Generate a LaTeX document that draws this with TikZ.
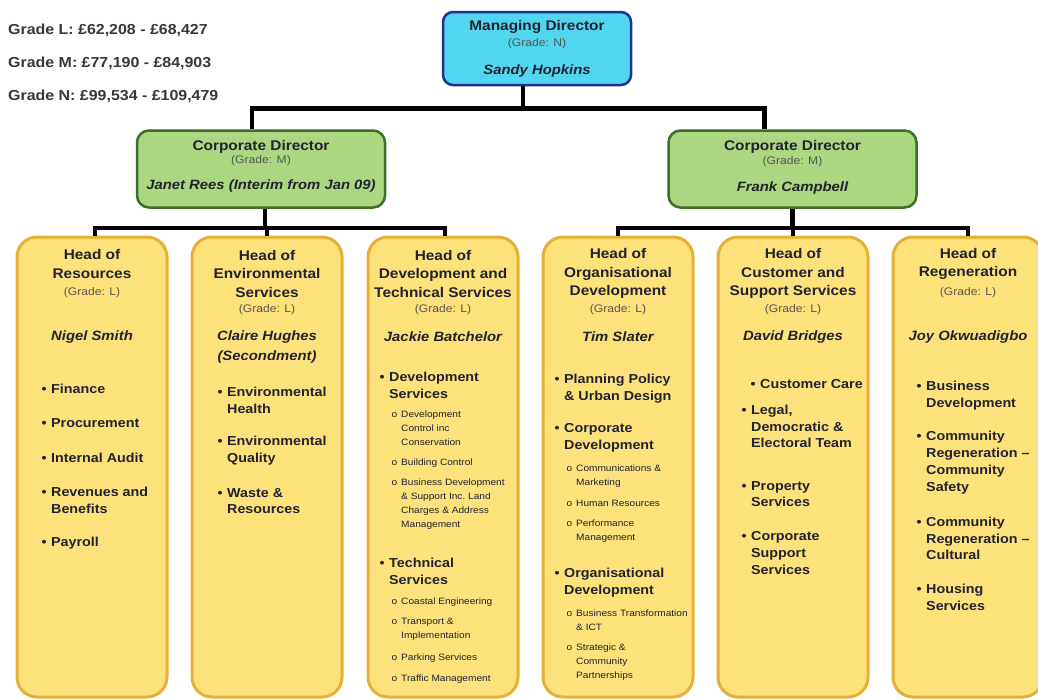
\documentclass[tikz,border=0pt]{standalone}
\usepackage{fontspec}
\setmainfont[FakeStretch=1.1]{Liberation Sans}
\usepackage{xcolor}

\definecolor{mdfill}{RGB}{82,214,240}
\definecolor{mdline}{RGB}{30,52,140}
\definecolor{cdfill}{RGB}{172,214,128}
\definecolor{cdline}{RGB}{58,112,40}
\definecolor{hdfill}{RGB}{253,226,124}
\definecolor{hdline}{RGB}{230,176,56}
\definecolor{txt}{RGB}{34,34,48}
\definecolor{grdtxt}{RGB}{85,85,85}

\newcommand{\bul}{\llap{\textbullet\hspace{4.5pt}}}
\newcommand{\subbul}{\llap{o\hspace{4pt}}}

\tikzset{
	mdbox/.style={draw=mdline, fill=mdfill, line width=2.5pt, rounded corners=10pt,
		minimum width=188pt, minimum height=73pt, inner sep=0pt},
	cdbox/.style={draw=cdline, fill=cdfill, line width=2.5pt, rounded corners=12pt,
		minimum width=248pt, minimum height=77pt, inner sep=0pt},
	hdbox/.style={draw=hdline, fill=hdfill, line width=3pt, rounded corners=20pt,
		minimum width=150pt, minimum height=460pt, inner sep=0pt},
	conn/.style={line width=4.5pt, black},
	ttl/.style={font=\fontsize{14}{18.5}\selectfont\bfseries, text=txt, align=center, inner sep=0pt},
	grd/.style={font=\fontsize{11}{12}\selectfont, text=grdtxt, inner sep=0pt},
	nm/.style={font=\fontsize{13.5}{20}\selectfont\bfseries\itshape, text=txt, align=center, inner sep=0pt},
	itm/.style={font=\fontsize{13}{16.8}\selectfont\bfseries, text=txt, align=left, anchor=west, inner sep=0pt},
	subitm/.style={font=\fontsize{9.2}{14}\selectfont, text=txt, align=left, anchor=west, inner sep=0pt},
	band/.style={font=\fontsize{14.5}{16}\selectfont\bfseries, text=black!78, anchor=west, inner sep=0pt}
}

\begin{document}
\begin{tikzpicture}[x=1pt, y=-1pt]
		\fill[white] (0,0) rectangle (1038,699);
		\useasboundingbox (0,0) rectangle (1038,699);
		
		% salary bands
		\node[band] (bandl) at (8,30) {Grade L: £62,208 - £68,427};
		\node[band] (bandm) at (8,63) {Grade M: £77,190 - £84,903};
		\node[band] (bandn) at (8,96) {Grade N: £99,534 - £109,479};
		
		% boxes
		\node[mdbox] (md) at (537,48.5) {};
		\node[cdbox] (cdl) at (261,169) {};
		\node[cdbox] (cdr) at (792.5,169) {};
		\foreach \n/\x in {hres/92,henv/267,hdev/443,horg/618,hcus/793,hreg/968}
			\node[hdbox] (\n) at (\x,467) {};
		
		% connectors
		\draw[conn] ([xshift=-14pt]md.south) -- ++(0,-22pt) coordinate (topbus)
			-| ([xshift=-9pt]cdl.north);
		\draw[conn] (topbus) -| ([xshift=-28pt]cdr.north);
		
		\draw[conn] ([xshift=4pt]cdl.south) -- ++(0,-19pt) coordinate (lbus);
		\draw[conn] ([xshift=3pt]hres.north) |- (lbus) -| ([xshift=2pt]hdev.north);
		\draw[conn] (henv.north) -- (henv.north |- lbus);
		
		\draw[conn] (cdr.south) -- ++(0,-19pt) coordinate (rbus);
		\draw[conn] (horg.north) |- (rbus) -| (hreg.north);
		\draw[conn] (hcus.north) -- (hcus.north |- rbus);
		
		% managing director
		\node[ttl] (mdt) at (537,27) {Managing Director};
		\node[grd] (mdg) at (537,44) {(Grade: N)};
		\node[nm] (mdn) at (537,71) {Sandy Hopkins};
		
		% corporate directors
		\node[ttl] (cdlt) at (261,147) {Corporate Director};
		\node[grd] (cdlg) at (261,161) {(Grade: M)};
		\node[nm] (cdln) at (261,186.5) {Janet Rees (Interim from Jan 09)};
		\node[ttl] (cdrt) at (792.5,147) {Corporate Director};
		\node[grd] (cdrg) at (792.5,162) {(Grade: M)};
		\node[nm] (cdrn) at (792.5,188) {Frank Campbell};
		
		% heads of service
		\node[ttl] (hrest) at (92,264) {Head of\\Resources};
		\node[ttl] (henvt) at (267,273.5) {Head of\\Environmental\\Services};
		\node[ttl] (hdevt) at (443,273.5) {Head of\\Development and\\Technical Services};
		\node[ttl] (horgt) at (618,273.5) {Head of\\Organisational\\Development};
		\node[ttl] (hcust) at (793,273.5) {Head of\\Customer and\\Support Services};
		\node[ttl] (hregt) at (968,264) {Head of\\Regeneration};
		
		\foreach \n/\x/\y in {hres/92/293,henv/267/310,hdev/443/309.5,horg/618/309.5,hcus/793/309.5,hreg/968/293}
			\node[grd] (\n g) at (\x,\y) {(Grade: L)};
		
		\node[nm] (hresn) at (92,337) {Nigel Smith};
		\node[nm] (henvn) at (267,347) {Claire Hughes\\(Secondment)};
		\node[nm] (hdevn) at (443,337) {Jackie Batchelor};
		\node[nm] (horgn) at (618,337) {Tim Slater};
		\node[nm] (hcusn) at (793,337) {David Bridges};
		\node[nm] (hregn) at (968,337) {Joy Okwuadigbo};
		
		% resources
		\node[itm] (r1) at (51,389) {\bul Finance};
		\node[itm] (r2) at (51,423) {\bul Procurement};
		\node[itm] (r3) at (51,458) {\bul Internal Audit};
		\node[itm] (r4) at (51,500) {\bul Revenues and\\Benefits};
		\node[itm] (r5) at (51,543) {\bul Payroll};
		
		% environmental services
		\node[itm] (e1) at (227,400) {\bul Environmental\\Health};
		\node[itm] (e2) at (227,450.5) {\bul Environmental\\Quality};
		\node[itm] (e3) at (227,501) {\bul Waste \&\\Resources};
		
		% development and technical services
		\node[itm] (d1) at (389,385) {\bul Development\\Services};
		\node[subitm] (d2) at (401,428.5) {\subbul Development\\Control inc\\Conservation};
		\node[subitm] (d3) at (401,463) {\subbul Building Control};
		\node[subitm] (d4) at (401,504.5) {\subbul Business Development\\\& Support Inc.\ Land\\Charges \& Address\\Management};
		\node[itm] (d5) at (389,571) {\bul Technical\\Services};
		\node[subitm] (d6) at (401,602) {\subbul Coastal Engineering};
		\node[subitm] (d7) at (401,629.5) {\subbul Transport \&\\Implementation};
		\node[subitm] (d8) at (401,658) {\subbul Parking Services};
		\node[subitm] (d9) at (401,679) {\subbul Traffic Management};
		
		% organisational development
		\node[itm] (o1) at (564,388.5) {\bul Planning Policy\\\& Urban Design};
		\node[itm] (o2) at (564,438) {\bul Corporate\\Development};
		\node[subitm] (o3) at (576,476) {\subbul Communications \&\\Marketing};
		\node[subitm] (o4) at (576,503) {\subbul Human Resources};
		\node[subitm] (o5) at (576,531) {\subbul Performance\\Management};
		\node[itm] (o6) at (564,583) {\bul Organisational\\Development};
		\node[subitm] (o7) at (576,620.5) {\subbul Business Transformation\\\& ICT};
		\node[subitm] (o8) at (576,662) {\subbul Strategic \&\\Community\\Partnerships};
		
		% customer and support services
		\node[itm] (c1) at (760,384) {\bul Customer Care};
		\node[itm] (c2) at (751,426.5) {\bul Legal,\\Democratic \&\\Electoral Team};
		\node[itm] (c3) at (751,494) {\bul Property\\Services};
		\node[itm] (c4) at (751,553) {\bul Corporate\\Support\\Services};
		
		% regeneration
		\node[itm] (g1) at (926,396) {\bul Business\\Development};
		\node[itm] (g2) at (926,462.5) {\bul Community\\Regeneration \textendash\\Community\\Safety};
		\node[itm] (g3) at (926,538.5) {\bul Community\\Regeneration \textendash\\Cultural};
		\node[itm] (g4) at (926,597.5) {\bul Housing\\Services};
		
	\end{tikzpicture}
\end{document}
